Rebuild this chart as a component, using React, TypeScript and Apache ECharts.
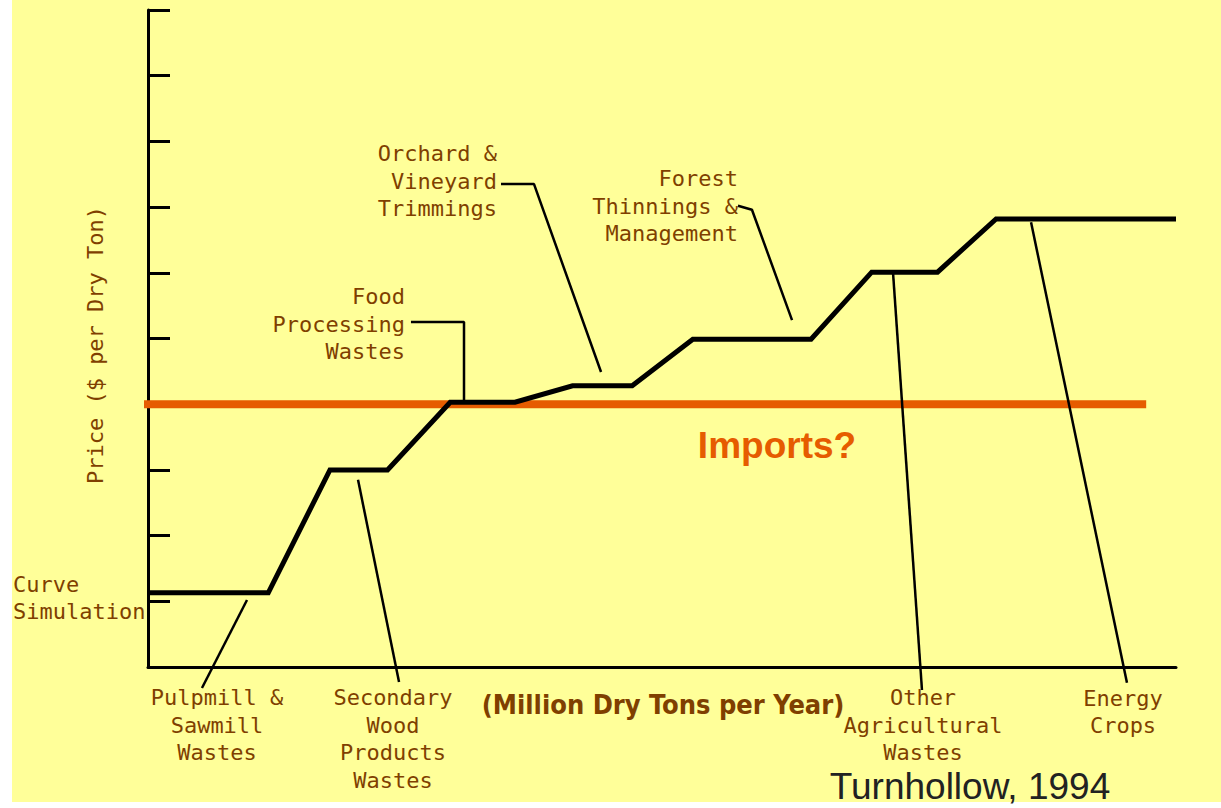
import React, { useEffect, useRef } from "react";
import * as echarts from "echarts";

// Supply curve (x: million dry tons per year, arbitrary 0-100; y: price, arbitrary 0-10)
const curveX = [0, 11.7, 17.7, 23.3, 29.4, 35.7, 41.3, 47.1, 53.0, 64.5, 70.4, 76.8, 82.5, 100];
const curveY = [1.13, 1.13, 3.0, 3.0, 4.03, 4.03, 4.28, 4.28, 4.99, 4.99, 6.01, 6.01, 6.82, 6.82];

// Imports price level
const importsLevel = 4;
const importsRange = [-0.97, 97.1];

// Leader lines from labels to curve segments
const leaderPulpmill = [[9.63, 1.02], [5.25, -0.32]];
const leaderSecondary = [[20.43, 2.85], [24.42, -0.23]];
const leaderFood = [[25.58, 5.25], [30.74, 5.25], [30.74, 4.03]];
const leaderOrchard = [[34.34, 7.35], [37.55, 7.35], [44.07, 4.49]];
const leaderForest = [[57.39, 7.02], [58.75, 6.96], [62.65, 5.28]];
const leaderOtherAg = [[72.47, 6.01], [75.29, -0.35]];
const leaderEnergy = [[85.9, 6.77], [95.23, -0.24]];
const leaders = [
  leaderPulpmill,
  leaderSecondary,
  leaderFood,
  leaderOrchard,
  leaderForest,
  leaderOtherAg,
  leaderEnergy,
];

const BROWN = "#7F3F00";
const ORANGE = "#E65C00";
const MONO = "'DejaVu Sans Mono', monospace";

export default function App() {
  const ref = useRef<HTMLDivElement>(null);

  useEffect(() => {
    if (!ref.current) return;
    const chart = echarts.init(ref.current, undefined, { renderer: "svg" });

    const label = (
      text: string,
      x: number,
      y: number,
      align: "left" | "center" | "right",
      extra: any = {}
    ) => ({
      type: "text",
      x,
      y,
      silent: true,
      z: 10,
      style: {
        text,
        fill: BROWN,
        font: `22px ${MONO}`,
        align,
        verticalAlign: "middle",
        lineHeight: 27.5,
        ...extra,
      },
    });

    const series: any[] = [
      {
        type: "line",
        name: "Imports",
        data: importsRange.map((x) => [x, importsLevel]),
        symbol: "none",
        clip: false,
        lineStyle: { color: ORANGE, width: 8 },
        z: 2,
      },
      {
        type: "line",
        name: "Supply curve",
        data: curveX.map((x, i) => [x, curveY[i]]),
        symbol: "none",
        lineStyle: { color: "#000", width: 5, join: "miter" },
        z: 4,
      },
      ...leaders.map((pts) => ({
        type: "line",
        data: pts,
        symbol: "none",
        clip: false,
        lineStyle: { color: "#000", width: 2.5 },
        z: 5,
      })),
    ];

    chart.setOption({
      animation: false,
      backgroundColor: "#ffffff",
      grid: { left: 148, top: 10, right: 45, bottom: 141, containLabel: false },
      xAxis: {
        type: "value",
        min: 0,
        max: 100,
        axisLine: { show: true, onZero: false, lineStyle: { color: "#000", width: 3 } },
        axisTick: { show: false },
        axisLabel: { show: false },
        splitLine: { show: false },
      },
      yAxis: {
        type: "value",
        min: 0,
        max: 10,
        interval: 1,
        axisLine: { show: true, onZero: false, lineStyle: { color: "#000", width: 3 } },
        axisTick: { show: true, inside: true, length: 22, lineStyle: { color: "#000", width: 3 } },
        axisLabel: { show: false },
        splitLine: { show: false },
      },
      series,
      graphic: [
        {
          type: "rect",
          z: -100,
          silent: true,
          shape: { x: 12, y: 0, width: 1209, height: 802 },
          style: { fill: "#FFFF99" },
        },
        label("Curve\nSimulation", 13, 598, "left"),
        label("Pulpmill &\nSawmill\nWastes", 217, 725, "center"),
        label("Secondary\nWood\nProducts\nWastes", 393, 739, "center"),
        label("Other\nAgricultural\nWastes", 923, 725, "center"),
        label("Energy\nCrops", 1123, 712, "center"),
        label("Food\nProcessing\nWastes", 405, 324, "right"),
        label("Orchard &\nVineyard\nTrimmings", 497, 181, "right"),
        label("Forest\nThinnings &\nManagement", 738, 206, "right"),
        {
          type: "text",
          x: 95,
          y: 345,
          rotation: Math.PI / 2,
          silent: true,
          z: 10,
          style: {
            text: "Price ($ per Dry Ton)",
            fill: BROWN,
            font: `22px ${MONO}`,
            align: "center",
            verticalAlign: "middle",
          },
        },
        {
          type: "text",
          x: 663,
          y: 704,
          silent: true,
          z: 10,
          style: {
            text: "(Million Dry Tons per Year)",
            fill: BROWN,
            font: "bold 27px 'DejaVu Sans Condensed', 'DejaVu Sans', sans-serif",
            align: "center",
            verticalAlign: "middle",
          },
        },
        {
          type: "text",
          x: 777,
          y: 445,
          silent: true,
          z: 10,
          style: {
            text: "Imports?",
            fill: ORANGE,
            font: "bold 37px 'Liberation Sans', Arial, sans-serif",
            align: "center",
            verticalAlign: "middle",
          },
        },
        {
          type: "text",
          x: 970,
          y: 786,
          silent: true,
          z: 10,
          style: {
            text: "Turnhollow, 1994",
            fill: "#222222",
            font: "37px 'Liberation Sans', Arial, sans-serif",
            align: "center",
            verticalAlign: "middle",
          },
        },
      ],
    });

    return () => chart.dispose();
  }, []);

  return (
    <div
      ref={ref}
      style={{ position: "fixed", left: 0, top: 0, width: 1221, height: 808 }}
    />
  );
}
